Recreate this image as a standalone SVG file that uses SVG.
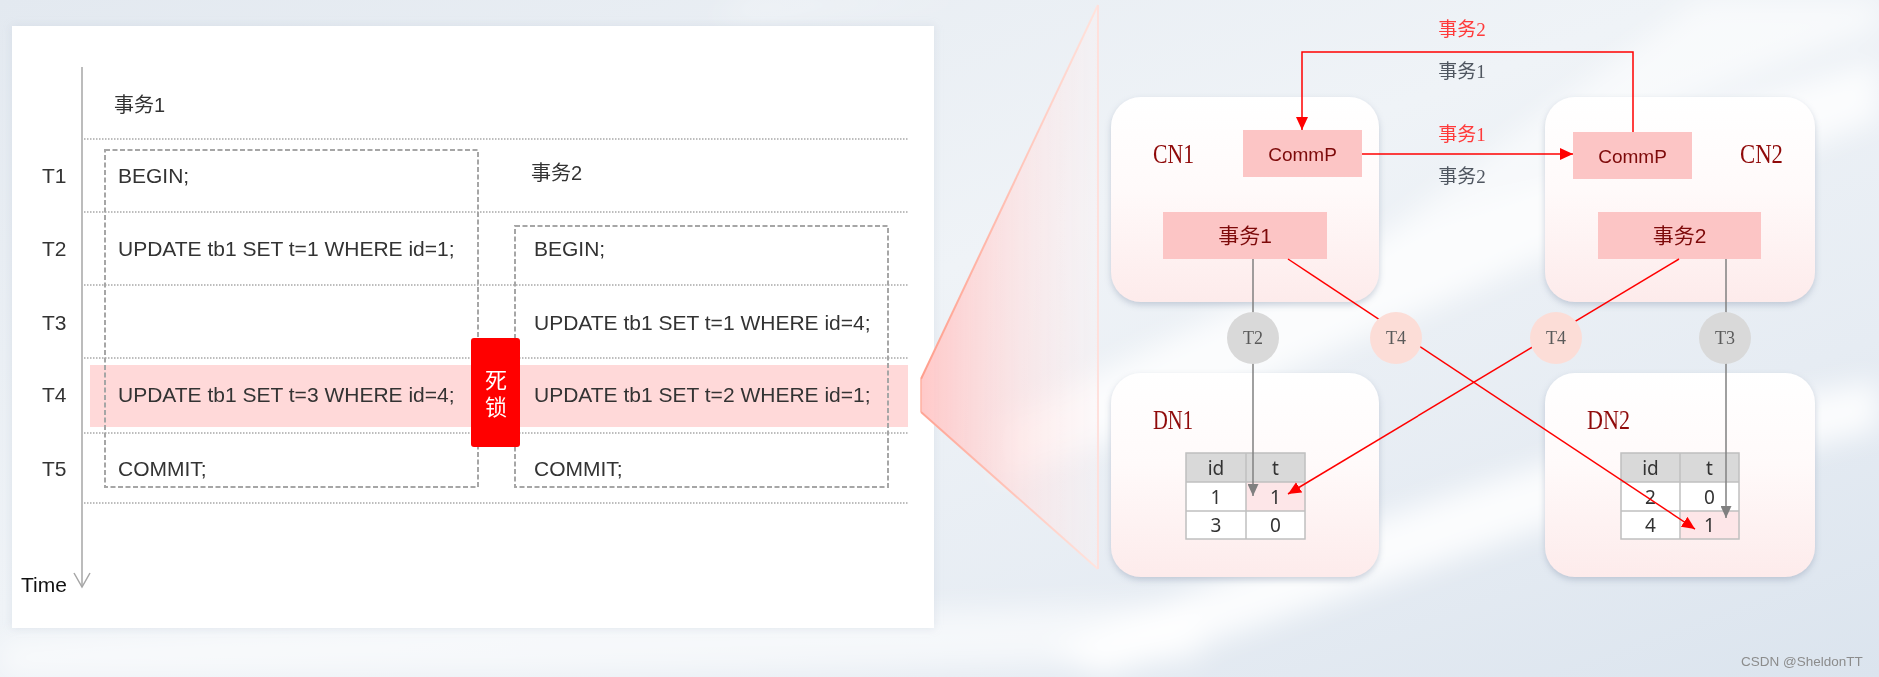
<svg xmlns="http://www.w3.org/2000/svg" width="1879" height="677" viewBox="0 0 1879 677">
<defs>
<style>
.lbl{font-family:"Liberation Sans","Noto Sans CJK SC",sans-serif;font-size:21px;fill:#333333}
.hdr{font-family:"Liberation Sans","Noto Sans CJK SC",sans-serif;font-size:20px;fill:#333333}
.dot{stroke:#a8a8a8;stroke-width:1.5;stroke-dasharray:1.5 1.5;fill:none}
.dash{stroke:#a6a6a6;stroke-width:2;stroke-dasharray:5 2.5;fill:none}
.nodebox{filter:url(#shadow)}
.nname{font-family:"Liberation Serif",serif;font-size:28px;fill:#8f0a0a}
.pbox{fill:#fcc5c5}
.ptxt{font-family:"Liberation Sans","Noto Sans CJK SC",sans-serif;fill:#7d0a0a;text-anchor:middle}
.ctxt{font-family:"Liberation Serif",serif;font-size:18px;fill:#5a5a5a;text-anchor:middle}
.loopr{font-family:"Liberation Serif","Noto Sans CJK SC",serif;font-size:19px;fill:#ff3a3a;text-anchor:middle}
.loopg{font-family:"Liberation Serif","Noto Sans CJK SC",serif;font-size:19px;fill:#4f5660;text-anchor:middle}
.tbl{stroke:#bfbfbf;stroke-width:1.5}
.ttxt{font-family:"Noto Sans","Liberation Sans",sans-serif;font-size:19px;fill:#333333;text-anchor:middle}
.rl{stroke:#ff0000;stroke-width:1.5;fill:none}
.gl{stroke:#808080;stroke-width:1.5;fill:none}
.dl{font-family:"Noto Sans CJK SC",sans-serif;font-size:22px;fill:#ffffff;writing-mode:vertical-rl;letter-spacing:5px}
</style>
<linearGradient id="bg" x1="0" y1="0" x2="1" y2="1">
<stop offset="0" stop-color="#e3e9f0"/>
<stop offset="0.45" stop-color="#eff3f7"/>
<stop offset="0.75" stop-color="#e6ecf3"/>
<stop offset="1" stop-color="#dbe4ee"/>
</linearGradient>
<filter id="blur" x="-20%" y="-50%" width="140%" height="200%"><feGaussianBlur stdDeviation="14"/></filter>
<filter id="shadow" x="-10%" y="-10%" width="120%" height="125%"><feDropShadow dx="0" dy="3" stdDeviation="3" flood-color="#8f9db3" flood-opacity="0.45"/></filter>
<filter id="pshadow" x="-5%" y="-5%" width="110%" height="110%"><feDropShadow dx="0" dy="0" stdDeviation="4" flood-color="#b8c3d1" flood-opacity="0.35"/></filter>
<linearGradient id="boxfill" x1="0" y1="0" x2="0" y2="1">
<stop offset="0" stop-color="#ffffff"/>
<stop offset="0.45" stop-color="#fffafa"/>
<stop offset="1" stop-color="#fdebeb"/>
</linearGradient>
<linearGradient id="funnel" gradientUnits="userSpaceOnUse" x1="921" y1="0" x2="1098" y2="0">
<stop offset="0" stop-color="#ffc6c6" stop-opacity="0.95"/>
<stop offset="0.45" stop-color="#ffdada" stop-opacity="0.7"/>
<stop offset="1" stop-color="#fff2f2" stop-opacity="0.35"/>
</linearGradient>
<linearGradient id="edgeTop" gradientUnits="userSpaceOnUse" x1="921" y1="379" x2="1098" y2="5">
<stop offset="0" stop-color="#ff9e8c"/>
<stop offset="1" stop-color="#ffe4de"/>
</linearGradient>
<linearGradient id="edgeBot" gradientUnits="userSpaceOnUse" x1="921" y1="412" x2="1098" y2="569">
<stop offset="0" stop-color="#ffa494"/>
<stop offset="1" stop-color="#ffe4de"/>
</linearGradient>
<marker id="ar" viewBox="0 0 13 12" refX="13" refY="6" markerWidth="13" markerHeight="12" markerUnits="userSpaceOnUse" orient="auto">
<path d="M0,0 L13,6 L0,12 z" fill="#ff0000"/>
</marker>
<marker id="ag" viewBox="0 0 12 11" refX="12" refY="5.5" markerWidth="12" markerHeight="11" markerUnits="userSpaceOnUse" orient="auto">
<path d="M0,0 L12,5.5 L0,11 z" fill="#808080"/>
</marker>
</defs>

<g id="background">
<rect x="0" y="0" width="1879" height="677" fill="url(#bg)"/>
<g filter="url(#blur)" fill="#ffffff">
<path d="M1000,420 C1250,300 1550,150 1879,60 L1879,120 C1600,220 1300,380 1000,480 z" opacity="0.8"/>
<path d="M1050,650 C1350,520 1650,420 1879,380 L1879,430 C1650,480 1350,600 1100,677 z" opacity="0.85"/>
<path d="M1350,260 C1550,160 1700,90 1879,30 L1879,0 L1700,0 C1600,70 1480,160 1350,260 z" opacity="0.6"/>
<path d="M0,640 C400,610 800,620 1200,600 L1200,660 C800,677 400,677 0,677 z" opacity="0.6"/>
<path d="M700,20 C800,10 900,5 1000,0 L760,0 z" opacity="0.6"/>
</g>
</g>

<g id="left-panel">
<rect x="12" y="26" width="922" height="602" fill="#ffffff" filter="url(#pshadow)"/>
</g>

<g id="t4-highlight">
<rect x="90" y="365" width="818" height="62" fill="#ffd9d9"/>
</g>

<g id="time-grid">
<line class="dot" x1="84" y1="139" x2="908" y2="139"/>
<line class="dot" x1="84" y1="212" x2="908" y2="212"/>
<line class="dot" x1="84" y1="285" x2="908" y2="285"/>
<line class="dot" x1="84" y1="358" x2="908" y2="358"/>
<line class="dot" x1="84" y1="433" x2="908" y2="433"/>
<line class="dot" x1="84" y1="503" x2="908" y2="503"/>
</g>

<g id="time-axis">
<line x1="82" y1="67" x2="82" y2="587" stroke="#a6a6a6" stroke-width="1.5"/>
<polyline points="74,573 82,587 90,573" fill="none" stroke="#a6a6a6" stroke-width="1.5"/>
<text x="21" y="592" font-family="Liberation Sans, sans-serif" font-size="21" fill="#111111">Time</text>
</g>

<g id="row-labels">
<text class="lbl" x="42" y="183">T1</text>
<text class="lbl" x="42" y="256">T2</text>
<text class="lbl" x="42" y="330">T3</text>
<text class="lbl" x="42" y="402">T4</text>
<text class="lbl" x="42" y="476">T5</text>
</g>

<g id="txn1-column">
<text class="hdr" x="114" y="112">事务1</text>
<rect class="dash" x="105" y="150" width="373" height="337"/>
<text class="lbl" x="118" y="183">BEGIN;</text>
<text class="lbl" x="118" y="256">UPDATE tb1 SET t=1 WHERE id=1;</text>
<text class="lbl" x="118" y="402">UPDATE tb1 SET t=3 WHERE id=4;</text>
<text class="lbl" x="118" y="476">COMMIT;</text>
</g>

<g id="txn2-column">
<text class="hdr" x="531" y="180">事务2</text>
<rect class="dash" x="515" y="226" width="373" height="261"/>
<text class="lbl" x="534" y="256">BEGIN;</text>
<text class="lbl" x="534" y="330">UPDATE tb1 SET t=1 WHERE id=4;</text>
<text class="lbl" x="534" y="402">UPDATE tb1 SET t=2 WHERE id=1;</text>
<text class="lbl" x="534" y="476">COMMIT;</text>
</g>

<g id="deadlock-badge">
<rect x="471" y="338" width="49" height="109" rx="3" fill="#ff0000"/>
<text class="dl" x="496" y="369">死锁</text>
</g>

<g id="zoom-funnel">
<polygon points="921,379 1098,5 1098,569 921,412" fill="url(#funnel)"/>
<line x1="921" y1="379" x2="1098" y2="5" stroke="url(#edgeTop)" stroke-width="2"/>
<line x1="921" y1="412" x2="1098" y2="569" stroke="url(#edgeBot)" stroke-width="2"/>
<line x1="921" y1="379" x2="921" y2="412" stroke="#ffb0a2" stroke-width="1.5"/>
<line x1="1098" y1="5" x2="1098" y2="569" stroke="#ffe0dc" stroke-width="2"/>
</g>

<g id="CN1">
<rect class="nodebox" x="1111" y="97" width="268" height="205" rx="30" fill="url(#boxfill)"/>
<text class="nname" x="1153" y="163" textLength="41" lengthAdjust="spacingAndGlyphs">CN1</text>
</g>
<g id="CN2">
<rect class="nodebox" x="1545" y="97" width="270" height="205" rx="30" fill="url(#boxfill)"/>
<text class="nname" x="1740" y="163" textLength="43" lengthAdjust="spacingAndGlyphs">CN2</text>
</g>
<g id="DN1">
<rect class="nodebox" x="1111" y="373" width="268" height="204" rx="30" fill="url(#boxfill)"/>
<text class="nname" x="1153" y="429" textLength="40" lengthAdjust="spacingAndGlyphs">DN1</text>
</g>
<g id="DN2">
<rect class="nodebox" x="1545" y="373" width="270" height="204" rx="30" fill="url(#boxfill)"/>
<text class="nname" x="1587" y="429" textLength="43" lengthAdjust="spacingAndGlyphs">DN2</text>
</g>

<g id="CommP1">
<rect class="pbox" x="1243" y="130" width="119" height="47"/>
<text class="ptxt" x="1302.5" y="161" font-size="19">CommP</text>
</g>
<g id="CommP2">
<rect class="pbox" x="1573" y="132" width="119" height="47"/>
<text class="ptxt" x="1632.5" y="163" font-size="19">CommP</text>
</g>
<g id="txn1-box">
<rect class="pbox" x="1163" y="212" width="164" height="47"/>
<text class="ptxt" x="1245" y="243" font-size="21">事务1</text>
</g>
<g id="txn2-box">
<rect class="pbox" x="1598" y="212" width="163" height="47"/>
<text class="ptxt" x="1679.5" y="243" font-size="21">事务2</text>
</g>

<g id="table-DN1">
<rect x="1186" y="453" width="119" height="29" fill="#d9d9d9"/>
<rect x="1186" y="482" width="60" height="57" fill="#ffffff"/>
<rect x="1246" y="482" width="59" height="29" fill="#fde6e8"/>
<rect x="1246" y="511" width="59" height="28" fill="#ffffff"/>
<g class="tbl" fill="none">
<rect x="1186" y="453" width="119" height="86"/>
<line x1="1246" y1="453" x2="1246" y2="539"/>
<line x1="1186" y1="482" x2="1305" y2="482"/>
<line x1="1186" y1="511" x2="1305" y2="511"/>
</g>
<text class="ttxt" x="1216" y="475">id</text>
<text class="ttxt" x="1275.5" y="475">t</text>
<text class="ttxt" x="1216" y="503.5">1</text>
<text class="ttxt" x="1275.5" y="503.5">1</text>
<text class="ttxt" x="1216" y="532">3</text>
<text class="ttxt" x="1275.5" y="532">0</text>
</g>

<g id="table-DN2">
<rect x="1621" y="453" width="118" height="29" fill="#d9d9d9"/>
<rect x="1621" y="482" width="118" height="29" fill="#ffffff"/>
<rect x="1621" y="511" width="59" height="28" fill="#ffffff"/>
<rect x="1680" y="511" width="59" height="28" fill="#fde6e8"/>
<g class="tbl" fill="none">
<rect x="1621" y="453" width="118" height="86"/>
<line x1="1680" y1="453" x2="1680" y2="539"/>
<line x1="1621" y1="482" x2="1739" y2="482"/>
<line x1="1621" y1="511" x2="1739" y2="511"/>
</g>
<text class="ttxt" x="1650.5" y="475">id</text>
<text class="ttxt" x="1709.5" y="475">t</text>
<text class="ttxt" x="1650.5" y="503.5">2</text>
<text class="ttxt" x="1709.5" y="503.5">0</text>
<text class="ttxt" x="1650.5" y="532">4</text>
<text class="ttxt" x="1709.5" y="532">1</text>
</g>

<g id="connectors">
<path class="rl" d="M1633,132 V52 H1302 V130" marker-end="url(#ar)"/>
<path class="rl" d="M1362,154 H1573" marker-end="url(#ar)"/>
<path class="gl" d="M1253,259 V496" marker-end="url(#ag)"/>
<path class="gl" d="M1726,259 V518" marker-end="url(#ag)"/>
<path class="rl" d="M1288,259 L1695,529" marker-end="url(#ar)"/>
<path class="rl" d="M1679,259 L1288,494" marker-end="url(#ar)"/>
</g>

<g id="connector-labels">
<text class="loopr" x="1462" y="36">事务2</text>
<text class="loopg" x="1462" y="78">事务1</text>
<text class="loopr" x="1462" y="141">事务1</text>
<text class="loopg" x="1462" y="183">事务2</text>
</g>

<g id="step-T2">
<circle cx="1253" cy="338" r="26" fill="#d9d9d9"/>
<text class="ctxt" x="1253" y="344">T2</text>
</g>
<g id="step-T4-a">
<circle cx="1396" cy="338" r="26" fill="#fcddd7"/>
<text class="ctxt" x="1396" y="344">T4</text>
</g>
<g id="step-T4-b">
<circle cx="1556" cy="338" r="26" fill="#fcddd7"/>
<text class="ctxt" x="1556" y="344">T4</text>
</g>
<g id="step-T3">
<circle cx="1725" cy="338" r="26" fill="#d9d9d9"/>
<text class="ctxt" x="1725" y="344">T3</text>
</g>

<g id="watermark">
<text x="1741" y="666" font-family="Liberation Sans, sans-serif" font-size="13.5" fill="#8c8c8c">CSDN @SheldonTT</text>
</g>
</svg>
